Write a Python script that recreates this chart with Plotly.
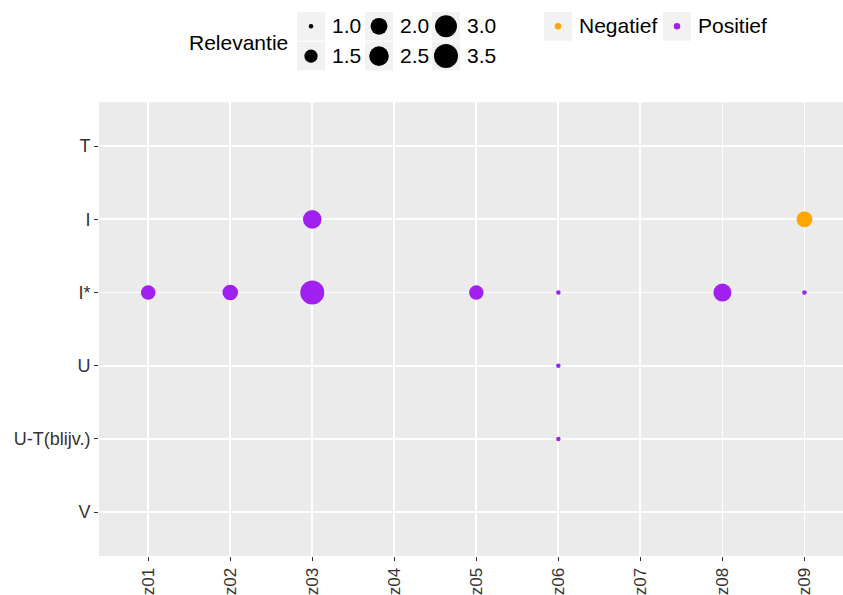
import math
import plotly.graph_objects as go

# ---- data ----
x_categories = ["z01", "z02", "z03", "z04", "z05", "z06", "z07", "z08", "z09"]
y_categories = ["V", "U-T(blijv.)", "U", "I*", "I", "T"]  # bottom -> top

pos_x = ["z01", "z02", "z03", "z03", "z05", "z06", "z06", "z06", "z08", "z09"]
pos_y = ["I*", "I*", "I", "I*", "I*", "I*", "U", "U-T(blijv.)", "I*", "I*"]
pos_rel = [1.67, 1.8, 2.3, 3.5, 1.65, 1.0, 1.0, 1.0, 2.2, 1.0]

neg_x = ["z09"]
neg_y = ["I"]
neg_rel = [1.85]

size_breaks = [1.0, 1.5, 2.0, 2.5, 3.0, 3.5]
color_names = ["Negatief", "Positief"]
color_values = ["#FFA500", "#A020F0"]

REL_MIN, REL_MAX = 1.0, 3.5


def size_px(v):
    return 4.5 + 19.5 * math.sqrt((v - REL_MIN) / (REL_MAX - REL_MIN))


FONT = "Liberation Sans, Arial, sans-serif"
W, H = 843, 595
B = 35
PAPER_H = H - B
PANEL_TOP = 103
PANEL_LEFT = 99
ydom_top = (PAPER_H - PANEL_TOP) / PAPER_H

fig = go.Figure()

fig.add_trace(go.Scatter(
    x=neg_x, y=neg_y, mode="markers", name=color_names[0], showlegend=False,
    marker=dict(color=color_values[0], size=[size_px(v) for v in neg_rel], opacity=1, line=dict(width=0)),
    xaxis="x", yaxis="y", cliponaxis=False,
))
fig.add_trace(go.Scatter(
    x=pos_x, y=pos_y, mode="markers", name=color_names[1], showlegend=False,
    marker=dict(color=color_values[1], size=[size_px(v) for v in pos_rel], opacity=1, line=dict(width=0)),
    xaxis="x", yaxis="y", cliponaxis=False,
))

# ---- manual legends in pixel coordinates (x2/y2) ----
key_fill = "#F2F2F2"
LEG_FONT = dict(family=FONT, size=21, color="#000000")
shapes = []
annotations = []

# size legend
col_left = [297, 365, 432]
row_top = [12, 42]
key_w, key_h = 28, 29
leg_x, leg_y, leg_s = [], [], []
for i, v in enumerate(size_breaks):
    c, r = i // 2, i % 2
    x0, y0 = col_left[c], row_top[r]
    shapes.append(dict(type="rect", xref="x2", yref="y2", x0=x0, x1=x0 + key_w,
                       y0=y0, y1=y0 + key_h, fillcolor=key_fill, line=dict(width=0), layer="below"))
    cx, cy = x0 + key_w / 2, y0 + key_h / 2
    leg_x.append(cx); leg_y.append(cy); leg_s.append(size_px(v))
    annotations.append(dict(xref="x2", yref="y2", x=x0 + key_w + 5, y=cy - 1, text=f"{v:.1f}",
                            showarrow=False, xanchor="left", yanchor="middle", font=LEG_FONT))
annotations.append(dict(xref="x2", yref="y2", x=238, y=43, text="Relevantie", showarrow=False,
                        xanchor="center", yanchor="middle", font=LEG_FONT))
fig.add_trace(go.Scatter(x=leg_x, y=leg_y, mode="markers", showlegend=False, hoverinfo="skip",
                         marker=dict(color="#000000", size=leg_s, opacity=1, line=dict(width=0)),
                         xaxis="x2", yaxis="y2", cliponaxis=False))

# colour legend
ckey_left = [544, 663]
ck_x, ck_y = [], []
for name, col, x0 in zip(color_names, color_values, ckey_left):
    shapes.append(dict(type="rect", xref="x2", yref="y2", x0=x0, x1=x0 + key_w,
                       y0=12, y1=12 + key_h, fillcolor=key_fill, line=dict(width=0), layer="below"))
    ck_x.append(x0 + key_w / 2); ck_y.append(12 + key_h / 2)
    annotations.append(dict(xref="x2", yref="y2", x=x0 + key_w + 5, y=12 + key_h / 2 - 1, text=name,
                            showarrow=False, xanchor="left", yanchor="middle", font=LEG_FONT))
fig.add_trace(go.Scatter(x=ck_x, y=ck_y, mode="markers", showlegend=False, hoverinfo="skip",
                         marker=dict(color=color_values, size=6.5, opacity=1, line=dict(width=0)),
                         xaxis="x2", yaxis="y2", cliponaxis=False))

# panel background
shapes.append(dict(type="rect", xref="x domain", yref="y domain", x0=0, x1=1, y0=0, y1=1,
                   fillcolor="#EBEBEB", line=dict(width=0), layer="below"))

tick_font = dict(family=FONT, size=18, color="#333333")
xtick_font = dict(family=FONT, size=17, color="#333333")
fig.update_layout(
    width=W, height=H,
    margin=dict(l=0, r=0, t=0, b=B, pad=0),
    paper_bgcolor="white", plot_bgcolor="rgba(0,0,0,0)",
    showlegend=False,
    shapes=shapes, annotations=annotations,
    xaxis=dict(domain=[PANEL_LEFT / W, 1], type="category", categoryorder="array",
               categoryarray=x_categories, range=[-0.6, 8.47],
               showgrid=True, gridcolor="white", gridwidth=1.8, zeroline=False,
               showline=False, ticks="outside", ticklen=4, tickwidth=1, tickcolor="#333333",
               tickangle=-90, tickfont=xtick_font, fixedrange=True, anchor="y"),
    yaxis=dict(domain=[0, ydom_top], type="category", categoryorder="array",
               categoryarray=y_categories, range=[-0.6, 5.6],
               showgrid=True, gridcolor="white", gridwidth=1.8, zeroline=False,
               showline=False, ticks="outside", ticklen=4, tickwidth=1, tickcolor="#333333",
               tickfont=tick_font, fixedrange=True, anchor="x"),
    xaxis2=dict(domain=[0, 1], range=[0, W], visible=False, fixedrange=True, anchor="y2"),
    yaxis2=dict(domain=[ydom_top, 1], range=[PANEL_TOP, 0], visible=False, fixedrange=True, anchor="x2"),
)

fig.write_html("out.html", config={"displayModeBar": False, "staticPlot": True},
               post_script="document.body.style.margin='0';document.body.style.overflow='hidden';")
